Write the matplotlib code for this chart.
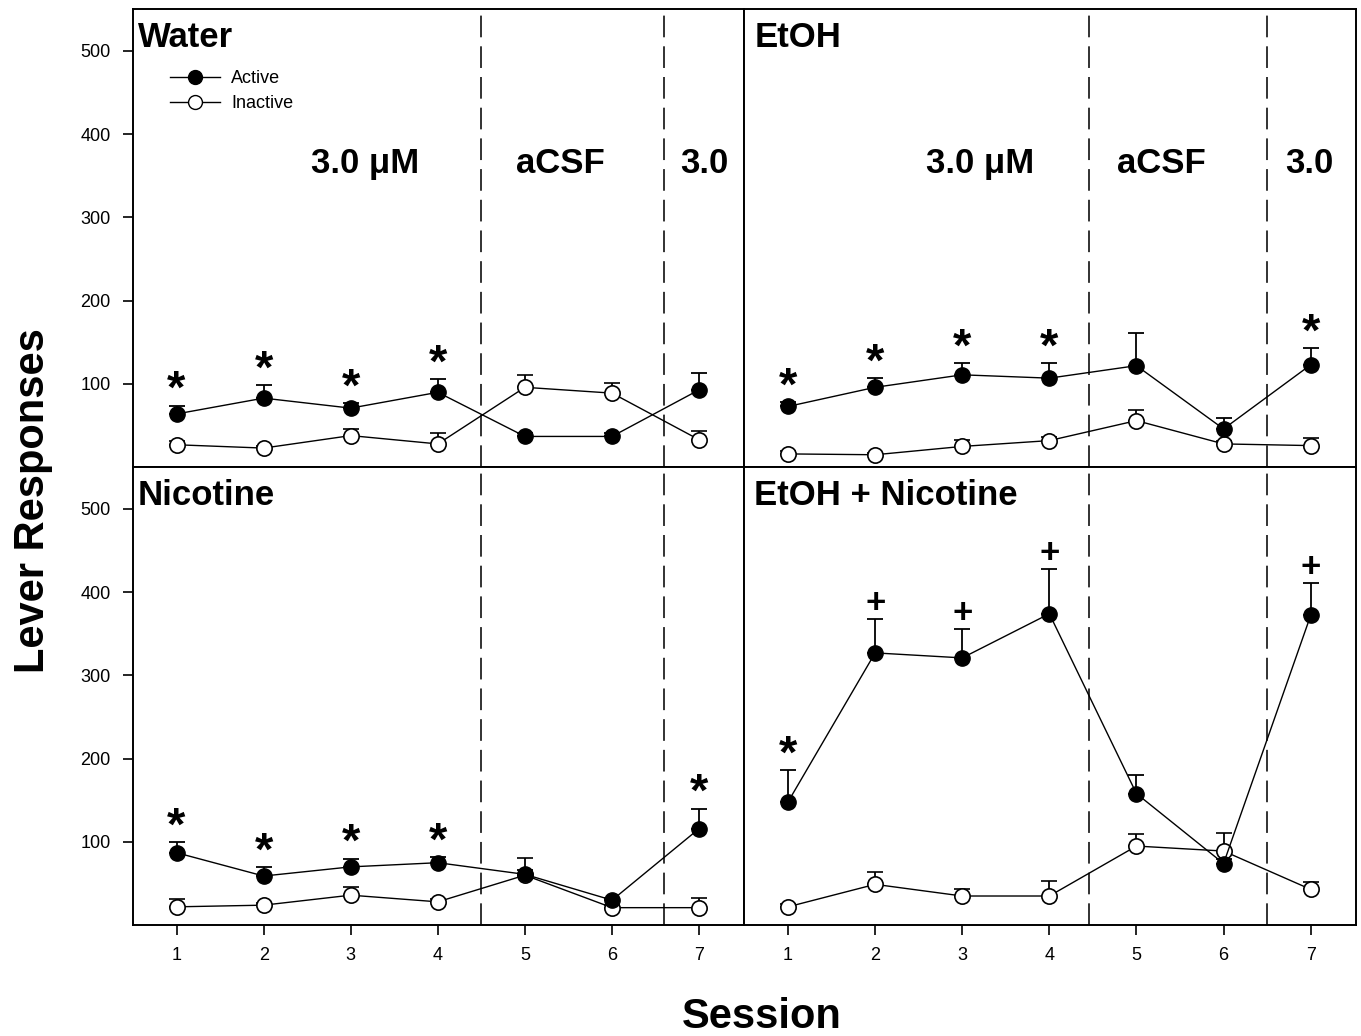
import numpy as np
import matplotlib.pyplot as plt
from matplotlib.lines import Line2D

plt.rcParams['font.family'] = ['Liberation Sans', 'DejaVu Sans']

sessions = [1, 2, 3, 4, 5, 6, 7]

# Water
water_active = [64, 83, 71, 90, 37, 37, 93]
water_active_err = [10, 16, 6, 16, 4, 4, 20]
water_inactive = [27, 23, 38, 28, 96, 89, 33]
water_inactive_err = [4, 3, 8, 13, 15, 12, 10]
water_marks = ['*', '*', '*', '*', '', '', '']

# EtOH
etoh_active = [73, 96, 111, 107, 122, 46, 123]
etoh_active_err = [5, 11, 14, 18, 39, 13, 20]
etoh_inactive = [16, 15, 25, 32, 56, 28, 26]
etoh_inactive_err = [3, 2, 8, 4, 13, 4, 9]
etoh_marks = ['*', '*', '*', '*', '', '', '*']

# Nicotine
nic_active = [87, 59, 70, 75, 61, 30, 116]
nic_active_err = [13, 11, 10, 7, 5, 3, 24]
nic_inactive = [22, 24, 36, 28, 60, 21, 21]
nic_inactive_err = [10, 3, 10, 3, 21, 3, 12]
nic_marks = ['*', '*', '*', '*', '', '', '*']

# EtOH + Nicotine
en_active = [148, 327, 321, 374, 158, 74, 372]
en_active_err = [38, 41, 35, 54, 22, 5, 39]
en_inactive = [22, 49, 35, 35, 95, 89, 43]
en_inactive_err = [3, 15, 8, 18, 14, 22, 9]
en_marks = ['*', '+', '+', '+', '', '', '+']

fig = plt.figure(figsize=(13.61, 10.36), dpi=100)
gs = fig.add_gridspec(2, 2, left=0.0977, right=0.9963, top=0.991, bottom=0.107,
                      wspace=0, hspace=0)
axes = [[fig.add_subplot(gs[r, c]) for c in range(2)] for r in range(2)]

panels = [
    (axes[0][0], 'Water', water_active, water_active_err, water_inactive,
     water_inactive_err, water_marks, [4.5, 6.6]),
    (axes[0][1], 'EtOH', etoh_active, etoh_active_err, etoh_inactive,
     etoh_inactive_err, etoh_marks, [4.45, 6.5]),
    (axes[1][0], 'Nicotine', nic_active, nic_active_err, nic_inactive,
     nic_inactive_err, nic_marks, [4.5, 6.6]),
    (axes[1][1], 'EtOH + Nicotine', en_active, en_active_err, en_inactive,
     en_inactive_err, en_marks, [4.45, 6.5]),
]

for i, (ax, title, act, act_err, ina, ina_err, marks, dividers) in enumerate(panels):
    ax.set_xlim(0.5, 7.52)
    ax.set_ylim(0, 550)
    for d in dividers:
        ax.axvline(d, color='#222222', lw=1.3, ls=(0, (12, 5)), zorder=1)

    ax.errorbar(sessions, ina, yerr=[np.zeros(7), ina_err], color='black', lw=1,
                marker='o', ms=11, mfc='white', mec='black', mew=1.2,
                capsize=6, elinewidth=1.3, capthick=1.3, zorder=3)
    ax.errorbar(sessions, act, yerr=[np.zeros(7), act_err], color='black', lw=1,
                marker='o', ms=11, mfc='black', mec='black',
                capsize=6, elinewidth=1.3, capthick=1.3, zorder=4)

    for x, a, e, m in zip(sessions, act, act_err, marks):
        if m == '*':
            ax.text(x, a + e - 9, m, ha='center', va='bottom', fontsize=34,
                    fontweight='bold')
        elif m == '+':
            ax.text(x, a + e - 1, m, ha='center', va='bottom', fontsize=25,
                    fontweight='bold')

    ax.text(0.008 if i % 2 == 0 else 0.016, 0.975, title, transform=ax.transAxes,
            ha='left', va='top', fontsize=25, fontweight='bold')

    for s in ax.spines.values():
        s.set_linewidth(1.4)
    ax.tick_params(direction='out', length=7, width=1.2, labelsize=13, pad=9)
    if i % 2 == 0:
        ax.set_yticks([100, 200, 300, 400, 500])
    else:
        ax.set_yticks([])
    if i >= 2:
        ax.set_xticks(sessions)
    else:
        ax.set_xticks([])

# phase labels in the top panels
axes[0][0].text(3.16, 365, '3.0 μM', ha='center', va='center', fontsize=25, fontweight='bold')
axes[0][0].text(5.41, 365, 'aCSF', ha='center', va='center', fontsize=25, fontweight='bold')
axes[0][0].text(7.06, 365, '3.0', ha='center', va='center', fontsize=25, fontweight='bold')
axes[0][1].text(3.21, 365, '3.0 μM', ha='center', va='center', fontsize=25, fontweight='bold')
axes[0][1].text(5.29, 365, 'aCSF', ha='center', va='center', fontsize=25, fontweight='bold')
axes[0][1].text(6.98, 365, '3.0', ha='center', va='center', fontsize=25, fontweight='bold')

handles = [
    Line2D([], [], color='black', lw=1, marker='o', ms=10, mfc='black', mec='black'),
    Line2D([], [], color='black', lw=1, marker='o', ms=10, mfc='white', mec='black'),
]
axes[0][0].legend(handles, ['Active', 'Inactive'], loc='upper left',
                  bbox_to_anchor=(0.045, 0.887), frameon=False, fontsize=13,
                  handlelength=2.8, labelspacing=0.45, handletextpad=0.6,
                  borderpad=0)

fig.text(0.024, 1 - 501 / 1036, 'Lever Responses', rotation=90, ha='center',
         va='center', fontsize=30, fontweight='bold')
fig.text(0.56, 1 - 1017 / 1036, 'Session', ha='center', va='center',
         fontsize=30, fontweight='bold')

fig.savefig('out.png', dpi=100)
